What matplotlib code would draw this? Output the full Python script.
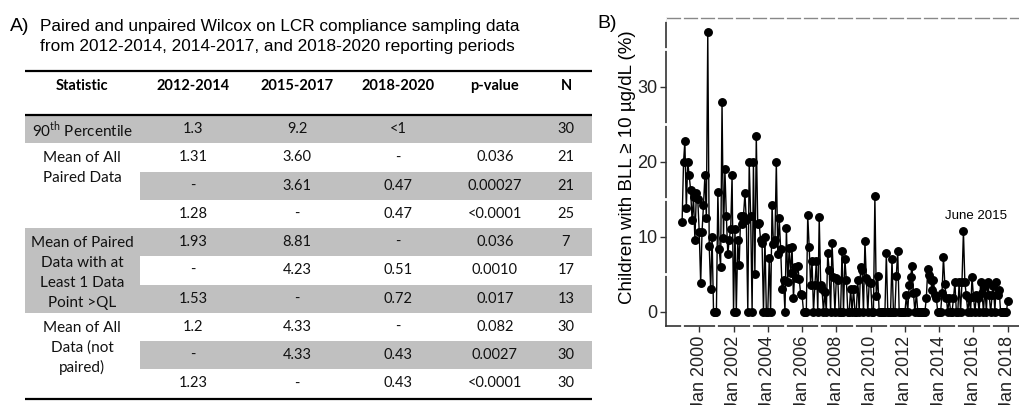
import numpy as np
import pandas as pd
import matplotlib
matplotlib.use("Agg")
import matplotlib.pyplot as plt
import matplotlib.dates as mdates
from matplotlib.patches import Rectangle

plt.rcParams['font.family'] = ['Liberation Sans', 'DejaVu Sans']
plt.rcParams['mathtext.fontset'] = 'custom'
plt.rcParams['mathtext.rm'] = 'Lato'

# ---- panel A table ----
headers = ["Statistic", "2012-2014", "2015-2017", "2018-2020", "p-value", "N"]
col_2012 = ["1.3", "1.31", "-", "1.28", "1.93", "-", "1.53", "1.2", "-", "1.23"]
col_2015 = ["9.2", "3.60", "3.61", "-", "8.81", "4.23", "-", "4.33", "4.33", "-"]
col_2018 = ["<1", "-", "0.47", "0.47", "-", "0.51", "0.72", "-", "0.43", "0.43"]
p_vals = ["", "0.036", "0.00027", "<0.0001", "0.036", "0.0010", "0.017",
          "0.082", "0.0027", "<0.0001"]
n_vals = ["30", "21", "21", "25", "7", "17", "13", "30", "30", "30"]
# (first row, number of rows, label lines)
groups = [(0, 1, ["90$^{\\rm th}$ Percentile"]),
          (1, 3, ["Mean of All", "Paired Data"]),
          (4, 3, ["Mean of Paired", "Data with at", "Least 1 Data", "Point >QL"]),
          (7, 3, ["Mean of All", "Data (not", "paired)"])]

# ---- panel B: % children with BLL >= 10 ug/dL, monthly Jan 1999 - Jan 2018 ----
bll = {
    1999: [12.0, 20.0, 22.8, 13.8, 20.0, 18.2, 16.3, 12.3, 15.3, 9.6, 15.8, 15.0],
    2000: [10.7, 3.8, 10.7, 14.3, 18.2, 12.5, 37.3, 8.8, 3.0, 10.0, 0, 0],
    2001: [0, 16.0, 8.4, 6.0, 28.0, 9.8, 19.0, 12.8, 7.7, 9.6, 11.1, 18.2],
    2002: [0, 11.1, 0, 9.6, 6.2, 12.8, 11.7, 12.8, 15.8, 12.2, 0, 20.0],
    2003: [12.8, 0, 20.0, 5.0, 23.5, 11.7, 11.8, 9.6, 9.2, 0, 10.0, 0],
    2004: [0, 7.2, 0, 14.3, 9.0, 9.6, 20.0, 7.7, 12.5, 8.4, 3.0, 4.3],
    2005: [0, 11.2, 4.0, 8.5, 5.2, 8.6, 1.8, 6.0, 4.5, 6.1, 4.4, 2.4],
    2006: [2.2, 0, 0, 0, 12.9, 8.7, 3.6, 6.8, 0, 3.6, 6.8, 0],
    2007: [12.6, 3.6, 3.1, 0, 2.7, 0, 7.8, 5.6, 0, 9.2, 4.7, 0],
    2008: [4.5, 4.3, 0, 0, 8.1, 0, 7.0, 4.3, 0, 0, 3.1, 0],
    2009: [3.1, 0, 0, 4.3, 0, 6.0, 5.6, 0, 9.5, 4.5, 0, 4.0],
    2010: [3.8, 0, 0, 15.4, 2.1, 4.8, 0, 0, 0, 0, 0, 7.8],
    2011: [0, 0, 0, 7.1, 0, 0, 4.8, 8.1, 0, 0, 0, 0],
    2012: [0, 2.2, 0, 3.6, 4.7, 6.1, 2.5, 0, 2.6, 0, 0, 0],
    2013: [0, 0, 0, 1.8, 5.7, 4.9, 4.3, 2.9, 4.3, 2.2, 1.8, 0],
    2014: [0, 0, 2.5, 7.3, 3.7, 1.9, 0, 1.8, 0, 0, 1.8, 4.0],
    2015: [0, 0, 4.0, 0, 4.0, 10.8, 4.0, 2.2, 0, 1.8, 0, 4.7],
    2016: [2.0, 0, 2.2, 1.8, 0, 4.0, 2.5, 0, 3.4, 0, 4.0, 2.2],
    2017: [0, 2.2, 3.4, 0, 4.0, 2.2, 2.9, 0, 0, 0, 0, 0],
    2018: [1.4],
}
values = [v for yr in sorted(bll) for v in bll[yr]]
dates = pd.date_range("1999-01-01", periods=len(values), freq="MS")
tick_years = list(range(2000, 2019, 2))

W, H = 1019, 405
fig = plt.figure(figsize=(W / 100, H / 100), dpi=100)

# table drawn in pixel coordinates
ax_t = fig.add_axes([0, 0, 1, 1])
ax_t.set_xlim(0, W)
ax_t.set_ylim(H, 0)
ax_t.axis('off')

x0, x1, xs = 25, 592, 140
row_top, row_h = 115, 28.25
col_x = [82, 193, 297, 398, 495, 566]
gray = '#c0c0c0'

ax_t.text(10, 31, "A)", fontsize=14, ha='left', va='baseline')
ax_t.text(40, 30.5, "Paired and unpaired Wilcox on LCR compliance sampling data",
          fontsize=12.4, ha='left', va='baseline')
ax_t.text(40, 51.5, "from 2012-2014, 2014-2017, and 2018-2020 reporting periods",
          fontsize=12.4, ha='left', va='baseline')

n_rows = len(n_vals)
for i in range(n_rows):
    if i % 2 == 0:
        ax_t.add_patch(Rectangle((xs, row_top + i * row_h), x1 - xs, row_h,
                                 color=gray, lw=0))
for g, (r0, nr, lines) in enumerate(groups):
    if g % 2 == 0:
        ax_t.add_patch(Rectangle((x0, row_top + r0 * row_h), xs - x0, nr * row_h,
                                 color=gray, lw=0))
    for k, lab in enumerate(lines):
        ax_t.text(col_x[0], row_top + (r0 + 0.5) * row_h + 1 + k * 20, lab,
                  fontsize=11, family='Lato', ha='center', va='center',
                  color='#111')

for j, h in enumerate(headers):
    ax_t.text(col_x[j], 86, h, fontsize=10.5, family='Lato', weight='bold',
              ha='center', va='center')

columns = [col_2012, col_2015, col_2018, p_vals, n_vals]
for j, col in enumerate(columns):
    for i, s in enumerate(col):
        ax_t.text(col_x[j + 1], row_top + (i + 0.5) * row_h, s, fontsize=10.5,
                  family='Lato', ha='center', va='center', color='#111')

for yy in [71, 115, row_top + n_rows * row_h + 1.5]:
    ax_t.plot([x0, x1], [yy, yy], color='black', lw=1.6, solid_capstyle='butt')

# ---- time series ----
ax = fig.add_axes([666 / W, (H - 326) / H, (W - 666) / W, (326 - 18) / H])
ax.plot(dates, values, color='black', lw=1.0, marker='o', ms=5.4, zorder=3)
ax.set_xlim(pd.Timestamp("1998-01-23"), pd.Timestamp("2018-08-28"))
ax.set_ylim(-1.87, 39.2)
ax.set_yticks([0, 10, 20, 30])
ax.set_xticks([pd.Timestamp(f"{y}-01-01") for y in tick_years])
ax.xaxis.set_major_formatter(mdates.DateFormatter("%b %Y"))
ax.tick_params(axis='x', labelrotation=90, labelsize=13, pad=2.5,
               length=4.5, width=1, color='#333', labelcolor='#222')
ax.tick_params(axis='y', labelsize=13, pad=1.5, length=4.5, width=1,
               color='#333', labelcolor='#222')
for lab in ax.get_xticklabels():
    lab.set_va('top')
ax.set_ylabel("Children with BLL \u2265 10 \u00b5g/dL (%)", fontsize=13.5)
ax.yaxis.label.set_va('center')
ax.yaxis.set_label_coords((628 - 666) / (W - 666), 0.515)
ax.spines['right'].set_visible(False)
for s in ['left', 'bottom']:
    ax.spines[s].set_color('#333')
    ax.spines[s].set_linewidth(1.2)
ax.spines['top'].set_color('#888')
ax.spines['top'].set_linewidth(1.0)

# white breaks in the axis lines (grid positions)
for y in range(1998, 2020):
    t = mdates.date2num(pd.Timestamp(f"{y}-01-01"))
    ax.plot([t, t], [39.2 - 0.3, 39.2 + 0.3], color='white', lw=2,
            clip_on=False, zorder=5)
    if y % 2 == 1:
        ax.plot([t, t], [-1.87 - 0.3, -1.87 + 0.3], color='white', lw=2,
                clip_on=False, zorder=5)
xl = ax.get_xlim()
for v in [5, 15, 25, 35]:
    ax.plot([xl[0] - 15, xl[0] + 15], [v, v], color='white', lw=2,
            clip_on=False, zorder=5)
ax.set_xlim(xl)

ax.annotate("June 2015", xy=(pd.Timestamp("2015-06-01"), 10.8),
            xytext=(9, 11), textcoords='offset points', ha='center',
            va='center', fontsize=9.5)

fig.text(597 / W, 1 - 28 / H, "B)", fontsize=14, ha='left', va='baseline')

fig.savefig("out.png", dpi=100)
